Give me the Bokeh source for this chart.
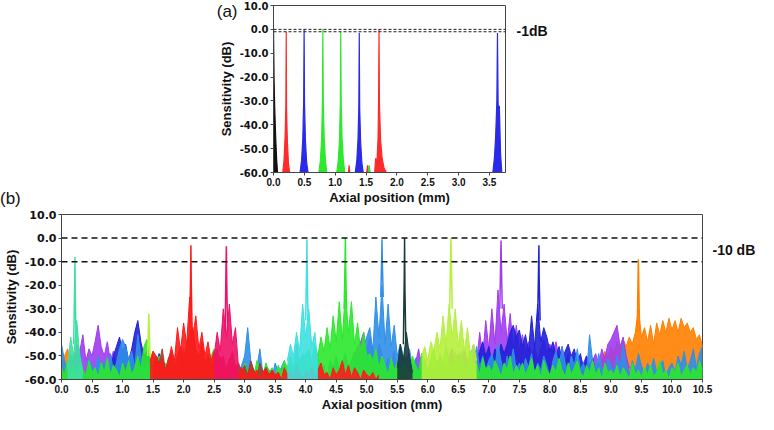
from bokeh.plotting import figure
from bokeh.layouts import column, row
from bokeh.models import Range1d, FixedTicker, PrintfTickFormatter, Span, LinearAxis, Div
from bokeh.embed import file_html
from bokeh.resources import INLINE

# ---------------- data ----------------
STEP = 0.05
FLOOR = -60.0
Y_TICKS = [10, 0, -10, -20, -30, -40, -50, -60]
XA_TICKS = [0.0, 0.5, 1.0, 1.5, 2.0, 2.5, 3.0, 3.5]
XB_TICKS = [0.0, 0.5, 1.0, 1.5, 2.0, 2.5, 3.0, 3.5, 4.0, 4.5, 5.0, 5.5, 6.0, 6.5,
            7.0, 7.5, 8.0, 8.5, 9.0, 9.5, 10.0, 10.5]
A_LIMITS = [0.0, -1.0]      # dashed lines panel (a)
B_LIMITS = [0.0, -10.0]     # dashed lines panel (b)

# panel (a) peaks: (x, dB)
a_black_x = [0.000, 0.004, 0.010, 0.020, 0.035, 0.050, 0.065]
a_black_y = [0.0, -9, -22, -33, -45, -54, -60]
a_red1_x = [0.150, 0.170, 0.188, 0.200, 0.206, 0.212, 0.225, 0.242, 0.262]
a_red1_y = [-60, -55, -45, -32, -1, -34, -47, -56, -60]
a_blue1_x = [0.430, 0.455, 0.475, 0.489, 0.496, 0.503, 0.518, 0.538, 0.560]
a_blue1_y = [-60, -55, -46, -30, 0, -31, -47, -56, -60]
a_green1_x = [0.735, 0.760, 0.780, 0.793, 0.800, 0.807, 0.822, 0.842, 0.865]
a_green1_y = [-60, -55, -46, -30, 0, -30, -46, -55, -60]
a_green2_x = [1.025, 1.050, 1.070, 1.083, 1.090, 1.097, 1.112, 1.132, 1.155]
a_green2_y = [-60, -55, -46, -31, -1, -31, -46, -55, -60]
a_blue2_x = [1.325, 1.350, 1.370, 1.383, 1.390, 1.397, 1.412, 1.432, 1.455]
a_blue2_y = [-60, -55, -46, -32, -1.4, -33, -47, -56, -60]
a_red2_x = [1.640, 1.655, 1.675, 1.695, 1.703, 1.710, 1.717, 1.735, 1.760, 1.790, 1.830]
a_red2_y = [-60, -54, -57, -45, -30, 0, -31, -46, -54, -58, -60]
a_blue3_x = [3.555, 3.580, 3.600, 3.620, 3.630, 3.640, 3.650, 3.660, 3.680, 3.700]
a_blue3_y = [-60, -54, -45, -30, -1.5, -30, -41, -32, -52, -60]
a_small_red_x = [1.215, 1.225, 1.235, 1.510, 1.525, 1.540]
a_small_red_y = [-60, -57, -60, -60, -57, -60]
a_small_green_x = [1.535, 1.550, 1.565]
a_small_green_y = [-60, -57, -60]

# panel (b) noise traces, sampled every STEP mm from the given start
orange_a_start = 0.0
orange_a = [-55, -50, -47, -52, -49, -56, -53, -58]
orange_b_start = 8.8
orange_b = [-55, -52, -48, -50, -46, -49, -44, -47, -43, -46,
            -42, -45, -40, -30, -42, -38, -44, -37, -45, -36,
            -41, -35, -40, -34, -39, -35, -40, -34, -38, -36,
            -40, -38, -43, -41, -46]
purple_a_start = 0.2
purple_a = [-52, -45, -48, -41, -52, -47, -50, -44, -37, -46,
            -50, -44, -52, -48, -55, -50, -53, -49, -56, -51,
            -54, -57, -52, -55, -58, -54, -57]
purple_b_start = 4.8
purple_b = [-50, -46, -44, -40, -48,
            -42, -47, -52, -45, -49, -55, -51, -53, -48, -56,
            -52, -57, -50, -54, -58, -53, -47, -55, -51, -57,
            -54, -58, -52, -56, -53, -59, -50, -47, -55, -49,
            -52, -47, -54, -50, -45, -53, -40, -50, -35, -47,
            -30, -45, -22, -40, -28, -44, -32, -47, -37, -48,
            -41, -48, -44, -50, -46, -52, -47, -43, -49, -45,
            -48, -44, -51, -46, -53, -49, -55, -50, -52, -57,
            -53, -50, -56, -52, -49, -54, -47, -51, -45, -43,
            -40, -37, -46, -42, -50, -55]
blue_a_start = 0.8
blue_a = [-55, -50, -46, -42, -48, -45, -52, -47, -40, -35,
          -44, -50, -48, -53, -50, -53, -49, -56]
blue_b_start = 6.8
blue_b = [-52, -48, -44, -50, -46, -53, -47, -51, -45, -49,
          -45, -40, -37, -42, -39, -46, -41, -48, -33, -46,
          -28, -44, -38, -42, -48, -44, -50, -46, -52, -48,
          -45, -50, -47, -53, -49, -55, -50, -54, -51, -57,
          -53]
dodger_start = 0.0
dodger = [-45, -52, -57, -49, -55, -53, -48, -56, -58, -51, -54,
          -57, -50, -55, -52, -58, -49, -56, -53, -47, -43,
          -46, -52, -48, -55, -41, -50, -56, -53, -58, -51,
          -57, -53, -59, -55, -58, -52, -56, -59, -54, -47,
          -55, -58, -53, -57, -59, -54, -56, -52, -58, -55,
          -57, -53, -59, -56, -52, -58, -55, -57, -54, -50,
          -38, -52, -57, -55, -47, -58, -54, -56, -59, -53,
          -57, -55, -52, -58, -50, -56, -45, -53, -49, -55,
          -58, -53, -56, -51, -57, -54, -59, -52, -55, -50,
          -56, -53, -49, -55, -52, -48, -54, -50, -46, -42,
          -38, -48, -25, -42, -20, -45, -28, -46, -37, -50,
          -45, -50, -53, -47, -55, -51, -57, -49, -53, -56,
          -52, -58, -54, -50, -56, -53, -59, -55, -51, -57,
          -48, -54, -51, -57, -53, -46, -55, -50, -56, -52,
          -49, -55, -45, -52, -58, -50, -54, -47, -56, -53,
          -57, -51, -55, -49, -58, -53, -56, -50, -54, -59,
          -52, -48, -55, -46, -53, -57, -50, -54, -47, -56,
          -53, -58, -41, -52, -56, -49, -55, -58, -51, -54,
          -57, -50, -55, -45, -53, -58, -52, -56, -49, -54,
          -58, -53, -56, -51, -57, -54, -52, -59, -55, -53,
          -57, -50, -54, -48, -56, -52, -47, -55, -49, -46]
green_start = 0.0
green = [-55, -58, -52, -57, -54, -59, -53, -56, -58, -52, -57,
         -55, -59, -53, -57, -51, -58, -54, -56, -59, -53,
         -57, -52, -58, -55, -50, -56, -46, -43, -52, -48,
         -55, -50, -57, -53, -58, -51, -56, -59, -54, -57,
         -52, -58, -55, -56, -53, -59, -54, -57, -50, -47,
         -55, -51, -58, -54, -57, -52, -59, -55, -58, -53,
         -57, -54, -59, -52, -56, -58, -53, -57, -55, -59,
         -54, -57, -52, -55, -50, -56, -48, -53, -51, -49,
         -47, -52, -45, -50, -42, -48, -38, -47, -33, -44,
         -27, -43, -22, -40, -27, -45, -36, -48, -40, -50,
         -49, -52, -47, -55, -50, -54, -58, -51, -56, -53,
         -57, -52, -55, -59, -50, -54, -57, -49, -53, -56,
         -51, -47, -55, -49, -53, -46, -52, -56, -48, -54,
         -50, -57, -52, -48, -55, -53, -58, -51, -56, -54,
         -57, -52, -55, -59, -53, -56, -50, -58, -54, -57,
         -53, -58, -55, -51, -57, -54, -59, -52, -56, -58,
         -54, -57, -51, -56, -59, -53, -58, -55, -52, -57,
         -59, -54, -57, -52, -58, -55, -60, -53, -57, -56,
         -58, -54, -59, -55, -57, -60, -53, -58, -56, -59,
         -55, -58, -54, -59, -57, -52, -58, -56, -60, -55,
         -57, -53, -59, -56, -54, -58, -55, -57, -52, -56]
brown_start = 1.5
brown = [-55, -50, -53, -47, -56, -51, -48, -54, -50, -46,
         -52, -45, -40, -38, -47, -50, -44, -53, -49, -55,
         -51, -47, -54, -50, -56, -52, -48, -55, -53, -57,
         -54, -58, -52, -56, -59, -53, -57, -55, -58, -56,
         -59, -57, -60]
red_start = 1.45
red = [-52, -48,
       -50, -54, -51, -56, -53, -46, -52, -38, -48, -36,
       -45, -25, -42, -33, -47, -40, -50, -44, -52, -48,
       -55, -50, -53, -57, -51, -56, -54, -58, -55, -57,
       -59, -55, -58, -56, -60, -57, -55, -59, -56, -58,
       -57, -60, -55, -58, -56, -59, -54, -57, -60, -56,
       -58, -55, -59, -56, -53, -58, -57, -60, -55, -58,
       -56, -52, -58, -54, -59, -55, -57, -60, -56, -58,
       -59, -57, -60, -58]
crimson_start = 2.5
crimson = [-50, -40, -48, -30, -42, -28, -45, -38, -55]
cyan_start = 3.7
cyan = [-52, -45, -50, -40, -48, -28, -42, -30, -46, -40, -54]
dark_start = 5.5
dark = [-55, -45, -52, -40, -50, -57]
yg_start = 5.9
yg = [-50, -46, -52, -44, -48, -40, -47, -33, -45, -28,
      -42, -30, -46, -35, -48, -38, -50, -45, -52]
aqua_start = 0.1
aqua = [-55, -42, -50, -35, -50, -56]

# panel (b) main peaks: (x, dB)
pk_aqua_x = [0.20, 0.215, 0.22, 0.225, 0.24];    pk_aqua_y = [-45, -20, -8, -22, -45]
pk_red_x = [2.10, 2.115, 2.12, 2.125, 2.14];     pk_red_y = [-40, -15, -3, -18, -40]
pk_crim_x = [2.68, 2.695, 2.70, 2.705, 2.72];    pk_crim_y = [-40, -12, -3.5, -15, -40]
pk_cyan_x = [4.00, 4.015, 4.02, 4.025, 4.04];    pk_cyan_y = [-35, -12, -0.5, -15, -35]
pk_green_x = [4.63, 4.645, 4.65, 4.655, 4.67];   pk_green_y = [-30, -10, 0, -12, -30]
pk_dodger_x = [5.23, 5.245, 5.25, 5.255, 5.27];  pk_dodger_y = [-25, -8, -0.5, -10, -25]
pk_dark_x = [5.60, 5.615, 5.62, 5.625, 5.64];    pk_dark_y = [-45, -15, 0, -20, -45]
pk_yg_x = [6.36, 6.375, 6.38, 6.385, 6.40];      pk_yg_y = [-30, -5, 0, -8, -30]
pk_purple_x = [7.18, 7.195, 7.20, 7.205, 7.22];  pk_purple_y = [-30, -8, -1, -10, -30]
pk_blue_x = [7.80, 7.815, 7.82, 7.825, 7.84];    pk_blue_y = [-35, -12, -3, -18, -35]
pk_orange_x = [9.43, 9.445, 9.45, 9.455, 9.47];  pk_orange_y = [-40, -15, -9, -18, -40]
pk_yg2_x = [1.41, 1.43, 1.45];                   pk_yg2_y = [-50, -32, -50]

# text annotations
A_TAG, A_TAG_Y = "(a)", 7.6
A_NOTE, A_NOTE_Y = "-1dB", -0.5
B_TAG = "(b)"
B_NOTE, B_NOTE_Y = "-10 dB", -5.0

# colours
C_ORANGE = "#ff8000"; C_PURPLE = "#a03cf0"; C_BLUE = "#2020d8"; C_DODGER = "#2f8fe8"
C_GREEN = "#2be82b"; C_RED = "#ff1a1a"; C_BROWN = "#a0402a"; C_CRIMSON = "#ee1166"
C_CYAN = "#3ee0e0"; C_DARK = "#1a3b3b"; C_YG = "#b5f03c"; C_AQUA = "#3ee0a0"
A_RED = "#ff2a2a"; A_BLUE = "#2a2ae8"; A_GREEN = "#2ee82e"; A_BLACK = "#111111"

TICK_FONT = "DejaVu Sans"
TEXT_FONT = "Liberation Sans"


def style(p, xticks, yfs):
    p.outline_line_color = "#444444"
    p.outline_line_width = 1
    p.xgrid.grid_line_color = None
    p.ygrid.grid_line_color = None
    p.background_fill_color = "white"
    p.border_fill_color = "white"
    p.xaxis.ticker = FixedTicker(ticks=xticks)
    p.yaxis.ticker = FixedTicker(ticks=Y_TICKS)
    for ax in (p.xaxis[0], p.yaxis[0]):
        ax.formatter = PrintfTickFormatter(format="%.1f")
        ax.axis_line_color = "#444444"
        ax.major_tick_line_color = "#444444"
        ax.minor_tick_line_color = None
        ax.major_tick_in = 0
        ax.major_tick_out = 3
        ax.major_label_text_font_style = "bold"
        ax.major_label_text_color = "#111111"
        ax.axis_label_text_font = TEXT_FONT
        ax.axis_label_text_font_style = "bold"
        ax.axis_label_text_font_size = "13px"
        ax.axis_label_text_color = "#111111"
    p.xaxis.major_label_text_font = TEXT_FONT
    p.xaxis.major_label_text_font_size = "10px"
    p.xaxis.major_label_standoff = 2
    p.xaxis.axis_label_standoff = 1
    p.yaxis.major_label_text_font = TICK_FONT
    p.yaxis.major_label_text_font_size = yfs
    p.yaxis.major_label_standoff = 2
    p.yaxis.axis_label_standoff = 3
    p.xaxis.axis_label = "Axial position (mm)"
    p.yaxis.axis_label = "Sensitivity (dB)"


def text_axis(p, side, pos, text, size, bold, standoff):
    ax = LinearAxis(ticker=FixedTicker(ticks=[pos]), major_label_overrides={pos: text})
    ax.axis_line_color = None
    ax.major_tick_line_color = None
    ax.minor_tick_line_color = None
    ax.major_label_standoff = standoff
    ax.major_label_text_font = TEXT_FONT
    ax.major_label_text_font_size = size
    ax.major_label_text_font_style = "bold" if bold else "normal"
    ax.major_label_text_color = "#111111"
    p.add_layout(ax, side)


def grid(start, vals):
    return [round(start + STEP * i, 4) for i in range(len(vals))]


def trace(p, xs, ys, color, alpha=0.9, lw=1.0):
    p.varea(x=xs, y1=FLOOR, y2=ys, fill_color=color, fill_alpha=alpha)
    p.line(xs, ys, line_color=color, line_width=lw)


# ---------------- panel (a) ----------------
LEFT_W = 180
pa = figure(width=758 - LEFT_W, height=207, output_backend="svg", toolbar_location=None,
            x_range=Range1d(0, 3.76), y_range=Range1d(FLOOR, 10),
            min_border_left=273 - LEFT_W, min_border_right=253, min_border_top=5, min_border_bottom=34)
style(pa, XA_TICKS, "10px")

for xs, ys, c in [(a_black_x, a_black_y, A_BLACK), (a_red1_x, a_red1_y, A_RED),
                  (a_blue1_x, a_blue1_y, A_BLUE), (a_green1_x, a_green1_y, A_GREEN),
                  (a_green2_x, a_green2_y, A_GREEN), (a_blue2_x, a_blue2_y, A_BLUE),
                  (a_red2_x, a_red2_y, A_RED), (a_blue3_x, a_blue3_y, A_BLUE),
                  (a_small_red_x, a_small_red_y, A_RED), (a_small_green_x, a_small_green_y, A_GREEN)]:
    trace(pa, xs, ys, c, alpha=1.0, lw=1.2)

for loc in A_LIMITS:
    pa.add_layout(Span(location=loc, dimension="width", line_color="#222222", line_dash="3 2", line_width=1))
text_axis(pa, "left", A_TAG_Y, A_TAG, "17px", False, -28)
text_axis(pa, "right", A_NOTE_Y, A_NOTE, "14px", True, 5)

tag_b = Div(text=f'<div style="margin-top:190px;font-family:\'{TEXT_FONT}\';font-size:17px;'
                 f'line-height:17px;color:#111111;">{B_TAG}</div>',
            width=LEFT_W, height=207, styles={"margin": "0", "padding": "0"})

# ---------------- panel (b) ----------------
pb = figure(width=758, height=207, output_backend="svg", toolbar_location=None,
            x_range=Range1d(0, 10.5), y_range=Range1d(FLOOR, 10),
            min_border_left=54, min_border_right=50, min_border_top=7, min_border_bottom=33)
style(pb, XB_TICKS, "11px")

for start, vals, c in [(orange_a_start, orange_a, C_ORANGE), (orange_b_start, orange_b, C_ORANGE),
                       (purple_a_start, purple_a, C_PURPLE), (purple_b_start, purple_b, C_PURPLE),
                       (blue_a_start, blue_a, C_BLUE), (blue_b_start, blue_b, C_BLUE),
                       (dodger_start, dodger, C_DODGER), (green_start, green, C_GREEN),
                       (brown_start, brown, C_BROWN), (red_start, red, C_RED),
                       (crimson_start, crimson, C_CRIMSON), (cyan_start, cyan, C_CYAN),
                       (dark_start, dark, C_DARK), (yg_start, yg, C_YG), (aqua_start, aqua, C_AQUA)]:
    trace(pb, grid(start, vals), vals, c)

for xs, ys, c in [(pk_aqua_x, pk_aqua_y, C_AQUA), (pk_red_x, pk_red_y, C_RED),
                  (pk_crim_x, pk_crim_y, C_CRIMSON), (pk_cyan_x, pk_cyan_y, C_CYAN),
                  (pk_green_x, pk_green_y, C_GREEN), (pk_dodger_x, pk_dodger_y, C_DODGER),
                  (pk_dark_x, pk_dark_y, C_DARK), (pk_yg_x, pk_yg_y, C_YG),
                  (pk_purple_x, pk_purple_y, C_PURPLE), (pk_blue_x, pk_blue_y, C_BLUE),
                  (pk_orange_x, pk_orange_y, C_ORANGE), (pk_yg2_x, pk_yg2_y, C_YG)]:
    pb.line(xs, ys, line_color=c, line_width=1.5)

for loc in B_LIMITS:
    pb.add_layout(Span(location=loc, dimension="width", line_color="#111111", line_dash="6 4", line_width=1.5))
text_axis(pb, "right", B_NOTE_Y, B_NOTE, "14px", True, 4)

layout = column(row(tag_b, pa, spacing=0), pb, spacing=0)
open("out.html", "w").write(file_html(layout, INLINE))
